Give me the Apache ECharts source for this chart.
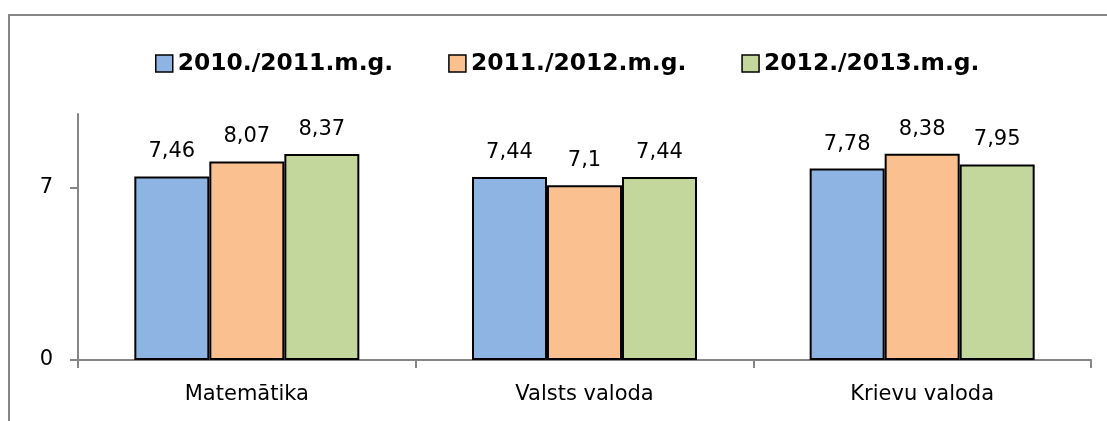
<!DOCTYPE html>
<html><head><meta charset="utf-8">
<script src="https://cdn.jsdelivr.net/npm/echarts@6/dist/echarts.min.js"></script>
<style>html,body{margin:0;padding:0;background:#fff}#c{width:1107px;height:421px}</style>
</head><body><div id="c"></div>
<script>
const categories = ['Matemātika', 'Valsts valoda', 'Krievu valoda'];
const seriesNames = ['2010./2011.m.g.', '2011./2012.m.g.', '2012./2013.m.g.'];
const s2010 = [7.46, 7.44, 7.78];
const s2011 = [8.07, 7.1, 8.38];
const s2012 = [8.37, 7.44, 7.95];
const yTicks = [0, 7];
const colors = ['#8EB4E3', '#FAC090', '#C3D69B'];
const FONT = 'DejaVu Sans';

const chart = echarts.init(document.getElementById('c'), null, {renderer: 'canvas'});
const mk = (name, data, color) => ({
  name, type: 'bar', data, barWidth: 75, barGap: '0%',
  itemStyle: {color, borderColor: '#000', borderWidth: 2},
  label: {show: true, position: 'top', distance: 14, color: '#000', fontSize: 21, fontFamily: FONT,
    formatter: p => String(p.value).replace('.', ',')},
  emphasis: {disabled: true}
});
chart.setOption({
  animation: false,
  textStyle: {fontFamily: FONT},
  graphic: [{type: 'rect', shape: {x: 9, y: 15, width: 1300, height: 600},
    style: {fill: 'none', stroke: '#868686', lineWidth: 2}, silent: true}],
  legend: {
    top: 47, left: 150, itemWidth: 17, itemHeight: 17, itemGap: 55,
    icon: 'rect',
    textStyle: {fontSize: 23.4, fontWeight: 'bold', color: '#000', fontFamily: FONT},
    data: seriesNames.map((n, i) => ({name: n, itemStyle: {color: colors[i], borderColor: '#000', borderWidth: 1.5}}))
  },
  grid: {left: 78, right: 16, top: 114, bottom: 61, containLabel: false},
  xAxis: {
    type: 'category', data: categories,
    axisLine: {lineStyle: {color: '#868686', width: 2}},
    axisTick: {show: true, length: 8, lineStyle: {color: '#868686', width: 2}},
    axisLabel: {color: '#000', fontSize: 21, margin: 24, fontFamily: FONT}
  },
  yAxis: {
    type: 'value', min: 0, max: 10, interval: 7,
    axisLine: {show: true, lineStyle: {color: '#868686', width: 2}},
    axisTick: {show: true, inside: false, length: 8, customValues: yTicks, lineStyle: {color: '#868686', width: 2}},
    axisLabel: {color: '#000', fontSize: 21, margin: 25, fontFamily: FONT, customValues: yTicks},
    splitLine: {show: true, showMaxLine: false, showMinLine: false, lineStyle: {color: '#868686', width: 2}}
  },
  series: [mk(seriesNames[0], s2010, colors[0]), mk(seriesNames[1], s2011, colors[1]), mk(seriesNames[2], s2012, colors[2])]
});
</script></body></html>
